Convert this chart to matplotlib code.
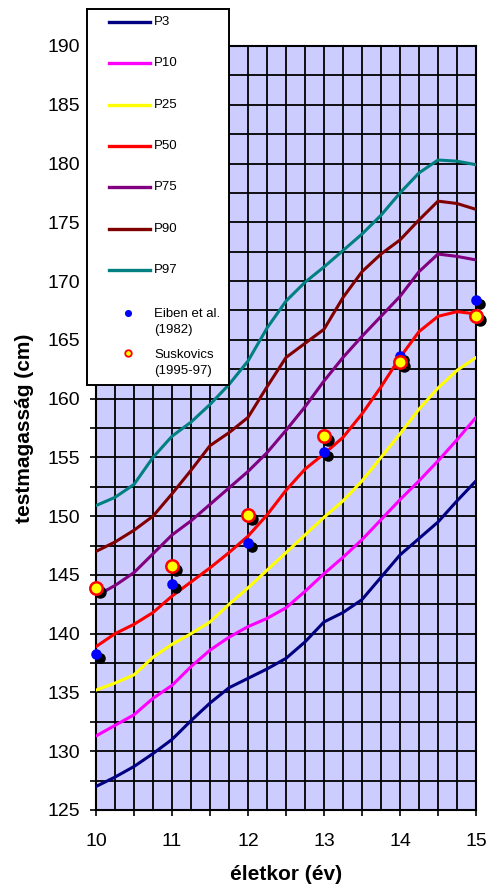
import matplotlib
matplotlib.use('Agg')
import matplotlib.pyplot as plt
import matplotlib.transforms as mtransforms
from matplotlib.ticker import MultipleLocator, FuncFormatter
import numpy as np

plt.rcParams['font.family'] = ['Liberation Sans', 'DejaVu Sans']

# ages (years) where the percentile curves are given
age = [10, 10.25, 10.5, 10.75, 11, 11.25, 11.5, 11.75, 12, 12.25, 12.5,
       12.75, 13, 13.25, 13.5, 13.75, 14, 14.25, 14.5, 14.75, 15]

# height percentiles (cm)
p3 = [127.0, 127.8, 128.7, 129.8, 131.0, 132.6, 134.1, 135.4, 136.2, 137.0, 137.9,
      139.3, 141.0, 141.8, 142.9, 144.8, 146.7, 148.1, 149.5, 151.3, 153.0]
p10 = [131.3, 132.2, 133.1, 134.5, 135.6, 137.2, 138.6, 139.7, 140.6, 141.3, 142.2,
       143.6, 145.1, 146.5, 148.0, 149.7, 151.4, 153.0, 154.7, 156.5, 158.4]
p25 = [135.2, 135.8, 136.5, 138.0, 139.1, 140.0, 141.0, 142.5, 143.9, 145.4, 146.9,
       148.4, 149.9, 151.3, 153.0, 155.0, 157.0, 159.1, 160.9, 162.4, 163.5]
p50 = [138.9, 140.0, 140.8, 141.8, 143.2, 144.4, 145.6, 146.9, 148.3, 150.1, 152.2,
       154.0, 155.3, 156.7, 158.7, 161.0, 163.5, 165.7, 167.0, 167.4, 167.2]
p75 = [143.2, 144.1, 145.2, 146.8, 148.4, 149.6, 151.0, 152.4, 153.8, 155.4, 157.3,
       159.3, 161.5, 163.5, 165.3, 167.0, 168.7, 170.8, 172.3, 172.1, 171.8]
p90 = [147.0, 147.8, 148.8, 150.0, 151.9, 153.9, 156.0, 157.1, 158.4, 161.0, 163.5,
       164.7, 165.9, 168.6, 170.8, 172.3, 173.5, 175.2, 176.8, 176.6, 176.1]
p97 = [150.9, 151.6, 152.7, 155.0, 156.8, 158.0, 159.5, 161.2, 163.2, 166.0, 168.3,
       169.9, 171.2, 172.6, 174.0, 175.6, 177.5, 179.2, 180.3, 180.2, 179.9]

# mean heights of the two surveys
survey_age = [10, 11, 12, 13, 14, 15]
eiben = [138.3, 144.2, 147.7, 155.5, 163.6, 168.4]
suskovics = [143.9, 145.8, 150.1, 156.8, 163.1, 167.0]

curves = [('P3', p3, '#000080'), ('P10', p10, '#FF00FF'), ('P25', p25, '#FFFF00'),
          ('P50', p50, '#FF0000'), ('P75', p75, '#800080'), ('P90', p90, '#800000'),
          ('P97', p97, '#008080')]

W, H = 490, 892
fig = plt.figure(figsize=(W / 100, H / 100), dpi=100)
ax = fig.add_axes([96 / W, 1 - 810 / H, 380 / W, 764 / H])
ax.set_facecolor('#CCCCFF')

for name, vals, col in curves:
    ax.plot(age, vals, color=col, lw=2.2, solid_joinstyle='round',
            solid_capstyle='round', zorder=3)

# drop shadows under the survey points
shadow = mtransforms.offset_copy(ax.transData, fig=fig, x=4, y=-4, units='dots')
ax.scatter(survey_age, eiben, s=58, color='black', transform=shadow, zorder=4,
           lw=0, clip_on=False)
ax.scatter(survey_age, eiben, s=58, color='#0000FF', zorder=5, lw=0, clip_on=False)
ax.scatter(survey_age, suskovics, s=80, color='black', transform=shadow, zorder=6,
           lw=0, clip_on=False)
ax.scatter(survey_age, suskovics, s=80, color='#FFFF00', edgecolor='#FF0000',
           lw=1.8, zorder=7, clip_on=False)

ax.set_xlim(10, 15)
ax.set_ylim(125, 190)
ax.xaxis.set_major_locator(MultipleLocator(0.5))
ax.xaxis.set_minor_locator(MultipleLocator(0.25))
ax.yaxis.set_major_locator(MultipleLocator(2.5))
ax.xaxis.set_major_formatter(FuncFormatter(lambda v, p: f'{v:.0f}' if v % 1 == 0 else ''))
ax.yaxis.set_major_formatter(FuncFormatter(lambda v, p: f'{v:.0f}' if v % 5 == 0 else ''))
ax.tick_params(which='major', direction='out', length=4.5, width=1.2, labelsize=14)
ax.tick_params(axis='x', which='major', pad=12)
ax.tick_params(axis='y', which='major', pad=7)
ax.tick_params(which='minor', length=0)
ax.grid(which='both', color='black', lw=1.3, zorder=1)
ax.set_axisbelow(True)
for sp in ax.spines.values():
    sp.set_linewidth(1.5)

ax.set_xlabel('életkor (év)', fontsize=15, fontweight='bold', va='center')
ax.xaxis.set_label_coords(0.5, (810 - 875) / 764)
ax.set_ylabel('testmagasság (cm)', fontsize=15, fontweight='bold', va='center')
ax.yaxis.set_label_coords((25 - 96) / 380, 0.5)

# legend box, laid out in pixel units
lx, ly, lw_, lh = 87, 9, 142, 376
lax = fig.add_axes([lx / W, 1 - (ly + lh) / H, lw_ / W, lh / H])
lax.set_xlim(0, lw_)
lax.set_ylim(lh, 0)
lax.set_xticks([])
lax.set_yticks([])
lax.set_facecolor('white')
for sp in lax.spines.values():
    sp.set_linewidth(1.4)
    sp.set_color('black')

for i, (name, vals, col) in enumerate(curves):
    yy = 13 + i * 41.3
    lax.plot([22, 63], [yy, yy], color=col, lw=2.4)
    lax.text(67, yy, name, fontsize=9.5, va='center', ha='left')

lax.scatter([41], [304], s=26, color='#0000FF', lw=0)
lax.text(67, 313, 'Eiben et al.\n(1982)', fontsize=9.5, va='center', ha='left',
         linespacing=1.45)
lax.scatter([41], [344], s=22, color='#FFFF00', edgecolor='#FF0000', lw=1.3)
lax.text(67, 354, 'Suskovics\n(1995-97)', fontsize=9.5, va='center', ha='left',
         linespacing=1.45)

fig.savefig('out.png', dpi=100)
